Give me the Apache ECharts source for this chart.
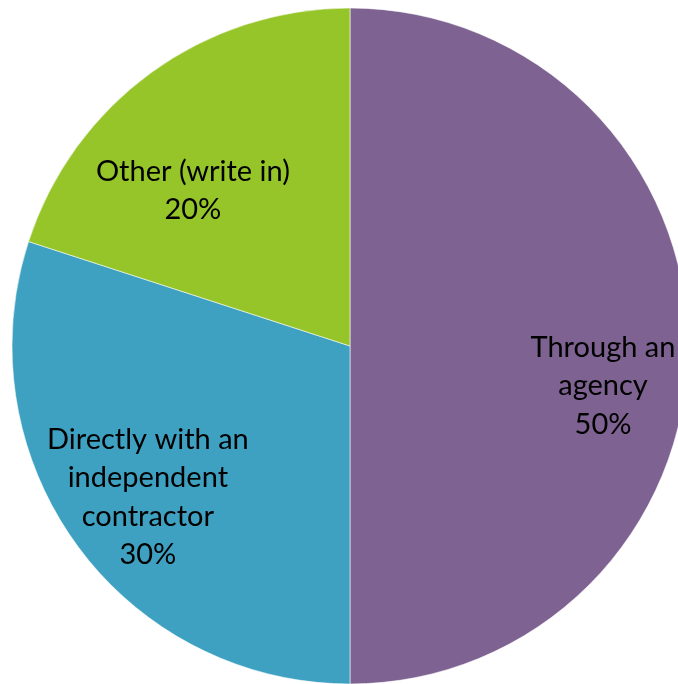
<!DOCTYPE html>
<html>
<head>
<meta charset="utf-8">
<script src="https://cdn.jsdelivr.net/npm/echarts@6/dist/echarts.min.js"></script>
<style>
  html, body { margin: 0; padding: 0; background: #ffffff; }
  #chart { width: 678px; height: 684px; }
</style>
</head>
<body>
<div id="chart"></div>
<script>
// How the work was arranged (share of responses)
const categories = ['Through an\nagency', 'Directly with an\nindependent\ncontractor', 'Other (write in)'];
const values = [50, 30, 20];
const colors = ['#7E6291', '#3FA1C1', '#96C52A'];
// Nudges of each label away from the default inside position
const labelOffsets = [[81, 40], [-63, 50], [-56, -16]];

const chart = echarts.init(document.getElementById('chart'), null, { renderer: 'canvas' });

chart.setOption({
  animation: false,
  backgroundColor: '#ffffff',
  series: [{
    type: 'pie',
    center: [350, 346],
    radius: 338,
    startAngle: 90,
    clockwise: true,
    label: {
      show: true,
      position: 'inside',
      formatter: p => p.name + '\n' + p.value + '%',
      color: '#000000',
      fontFamily: 'Lato, "Open Sans", sans-serif',
      fontSize: 29,
      lineHeight: 38.5,
      align: 'center'
    },
    labelLine: { show: false },
    itemStyle: { borderColor: 'rgba(255,255,255,0.55)', borderWidth: 1 },
    emphasis: { disabled: true },
    data: categories.map((name, i) => ({
      name,
      value: values[i],
      itemStyle: { color: colors[i] },
      label: { offset: labelOffsets[i] }
    }))
  }]
});
</script>
</body>
</html>
